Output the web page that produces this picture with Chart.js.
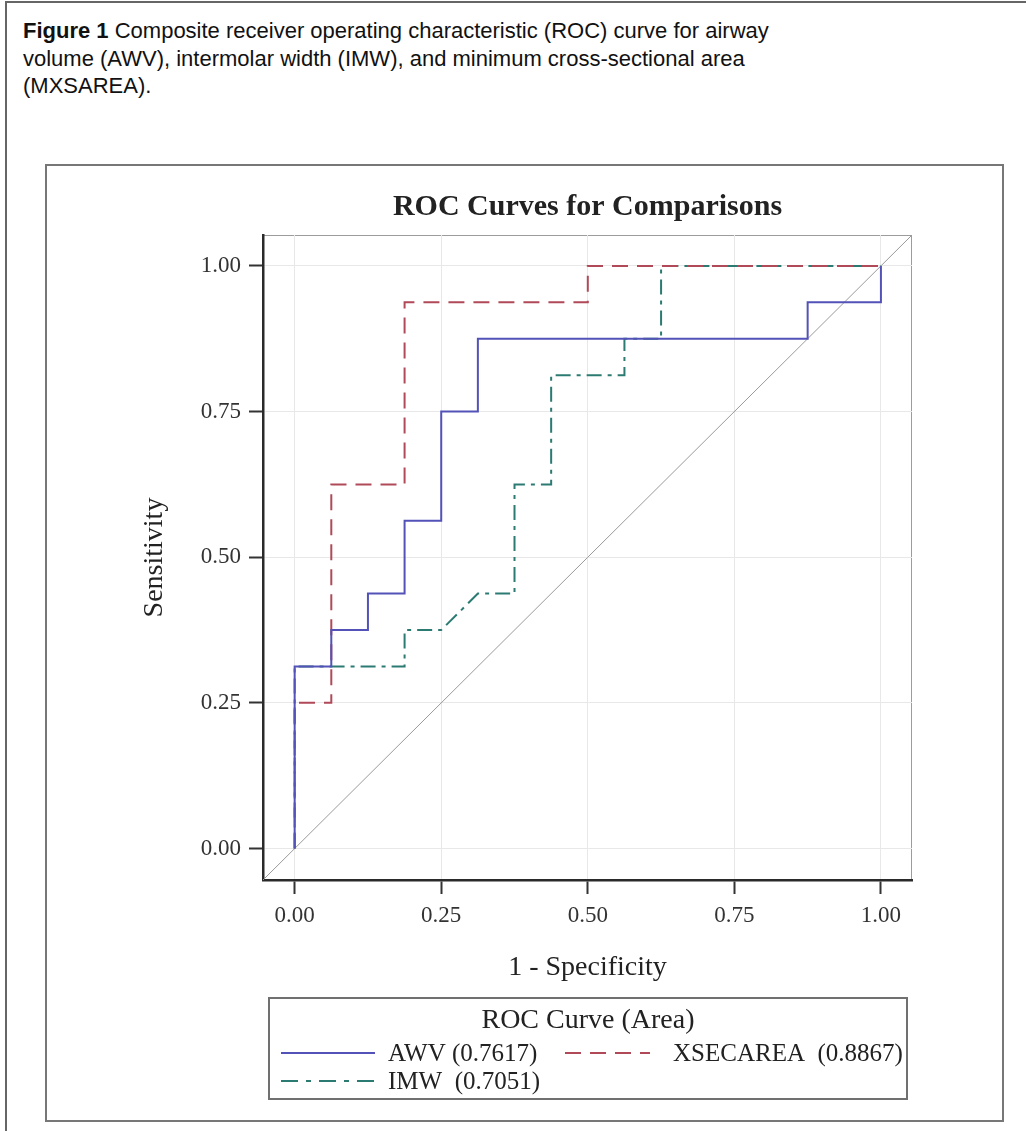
<!DOCTYPE html>
<html>
<head>
<meta charset="utf-8">
<script src="https://cdn.jsdelivr.net/npm/chart.js@4.4.1/dist/chart.umd.min.js"></script>
<style>
  html, body { margin: 0; padding: 0; background: #fff; }
  body { width: 1026px; height: 1131px; position: relative; overflow: hidden; }
  .outer { position: absolute; left: 5px; top: 1px; width: 1040px; height: 1150px; border: 2px solid #666; }
  .caption { position: absolute; left: 23px; top: 17px; font-family: "Liberation Sans", Arial, sans-serif;
             font-size: 22px; line-height: 27.5px; color: #111; white-space: nowrap; }
  .frame { position: absolute; left: 45px; top: 164px; width: 955px; height: 954px; border: 2px solid #777; }
  #wrap { position: absolute; left: 47px; top: 166px; width: 955px; height: 954px; }
</style>
</head>
<body>
<div class="outer"></div>
<div class="caption"><b>Figure 1</b> Composite receiver operating characteristic (ROC) curve for airway<br>volume (AWV), intermolar width (IMW), and minimum cross-sectional area<br>(MXSAREA).</div>
<div class="frame"></div>
<div id="wrap"><canvas id="roc" width="955" height="954"></canvas></div>
<script>
// ROC vertices (1 - specificity, sensitivity)
const awvFpr = [0, 0, 0.0625, 0.0625, 0.125, 0.125, 0.1875, 0.1875, 0.25, 0.25, 0.3125, 0.3125, 0.875, 0.875, 1, 1];
const awvTpr = [0, 0.3125, 0.3125, 0.375, 0.375, 0.4375, 0.4375, 0.5625, 0.5625, 0.75, 0.75, 0.875, 0.875, 0.9375, 0.9375, 1];

const xsecFpr = [0, 0, 0.0625, 0.0625, 0.1875, 0.1875, 0.5, 0.5, 1];
const xsecTpr = [0, 0.25, 0.25, 0.625, 0.625, 0.9375, 0.9375, 1, 1];

const imwFpr = [0, 0, 0.1875, 0.1875, 0.25, 0.3125, 0.375, 0.375, 0.4375, 0.4375, 0.5625, 0.5625, 0.625, 0.625, 1];
const imwTpr = [0, 0.3125, 0.3125, 0.375, 0.375, 0.4375, 0.4375, 0.625, 0.625, 0.8125, 0.8125, 0.875, 0.875, 1, 1];

const seriesNames = ['AWV', 'XSECAREA', 'IMW'];
const seriesAreas = [0.7617, 0.8867, 0.7051];
const tickValues = [0, 0.25, 0.5, 0.75, 1];
const axisMin = -0.054;
const axisMax = 1.053;

const colors = ['#5252b8', '#b04a58', '#2c7b72'];
const dashes = [[], [16, 9], [15, 6, 4, 6]];

const toPoints = (xs, ys) => xs.map((x, i) => ({ x, y: ys[i] }));
const curves = [toPoints(awvFpr, awvTpr), toPoints(xsecFpr, xsecTpr), toPoints(imwFpr, imwTpr)];

const serif = '"Liberation Serif", "Times New Roman", serif';

const datasets = curves.map((pts, i) => ({
    label: seriesNames[i],
    data: pts,
    borderColor: colors[i],
    borderWidth: 2,
    borderDash: dashes[i],
    pointRadius: 0,
    tension: 0,
    order: i + 1
}));
datasets.push({
    label: 'diag',
    data: [{ x: axisMin, y: axisMin }, { x: axisMax, y: axisMax }],
    borderColor: '#9a9a9a',
    borderWidth: 1,
    pointRadius: 0,
    order: 10
});

// light frame on the top and right side of the plot
const plotFrame = {
    id: 'plotFrame',
    beforeDraw(chart) {
        const { ctx, chartArea: a } = chart;
        ctx.save();
        ctx.strokeStyle = '#9c9c9c';
        ctx.lineWidth = 1;
        ctx.strokeRect(a.left + 0.5, a.top + 0.5, a.right - a.left - 1, a.bottom - a.top);
        ctx.restore();
    }
};

// boxed legend like the SAS one
const rocLegend = {
    id: 'rocLegend',
    afterDraw(chart) {
        const { ctx, chartArea: a } = chart;
        const left = a.left + 6, right = a.right - 5;
        const top = a.bottom + 118, bottom = a.bottom + 219;
        ctx.save();
        ctx.strokeStyle = '#707070';
        ctx.lineWidth = 2;
        ctx.strokeRect(left, top, right - left, bottom - top);

        ctx.fillStyle = '#222';
        ctx.textBaseline = 'middle';
        ctx.textAlign = 'center';
        ctx.font = '28px ' + serif;
        ctx.fillText('ROC Curve (Area)', (left + right) / 2, top + 23);

        const slots = [
            { x: left + 12, y: top + 55 },
            { x: left + 296, y: top + 55 },
            { x: left + 12, y: top + 83 }
        ];
        ctx.font = '25px ' + serif;
        ctx.textAlign = 'left';
        seriesNames.forEach((name, i) => {
            const s = slots[i];
            ctx.strokeStyle = colors[i];
            ctx.lineWidth = 2;
            ctx.setLineDash(i === 2 ? [17, 8, 5, 8] : dashes[i]);
            ctx.beginPath();
            ctx.moveTo(s.x, s.y);
            ctx.lineTo(s.x + (i === 1 ? 85 : 94), s.y);
            ctx.stroke();
            ctx.setLineDash([]);
            ctx.fillStyle = '#222';
            const gap = name === 'AWV' ? ' ' : '  ';
            ctx.fillText(name + gap + '(' + seriesAreas[i].toFixed(4) + ')', s.x + (i === 1 ? 108 : 107), s.y + 1);
        });
        ctx.restore();
    }
};

const axisCommon = {
    type: 'linear',
    min: axisMin,
    max: axisMax,
    afterBuildTicks: (axis) => { axis.ticks = tickValues.map(v => ({ value: v })); },
    ticks: {
        color: '#333',
        font: { family: serif, size: 23 },
        padding: 8,
        callback: (v) => v.toFixed(2)
    },
    grid: { color: '#e8e8e8', lineWidth: 1, tickColor: '#333', tickWidth: 2, tickLength: 14 },
    border: { color: '#2a2a2a', width: 2.5 }
};

new Chart(document.getElementById('roc'), {
    type: 'line',
    data: { datasets },
    options: {
        responsive: false,
        animation: false,
        layout: { padding: { left: 0, right: 90, top: 0, bottom: 120 } },
        scales: {
            x: {
                ...axisCommon,
                position: 'bottom',
                afterFit: (s) => { s.height = 120; },
                title: { display: true, text: '1 - Specificity', color: '#222',
                         font: { family: serif, size: 28 }, padding: { top: 0, bottom: 16 } }
            },
            y: {
                ...axisCommon,
                position: 'left',
                afterFit: (s) => { s.width = 216; },
                title: { display: true, text: 'Sensitivity', color: '#222',
                         font: { family: serif, size: 28 }, padding: { top: 91, bottom: 0 } }
            }
        },
        plugins: {
            legend: { display: false },
            tooltip: { enabled: false },
            title: {
                display: true,
                fullSize: false,
                text: 'ROC Curves for Comparisons',
                color: '#222',
                font: { family: serif, size: 30, weight: 'bold' },
                padding: { top: 23, bottom: 10 }
            }
        }
    },
    plugins: [plotFrame, rocLegend]
});
</script>
</body>
</html>
